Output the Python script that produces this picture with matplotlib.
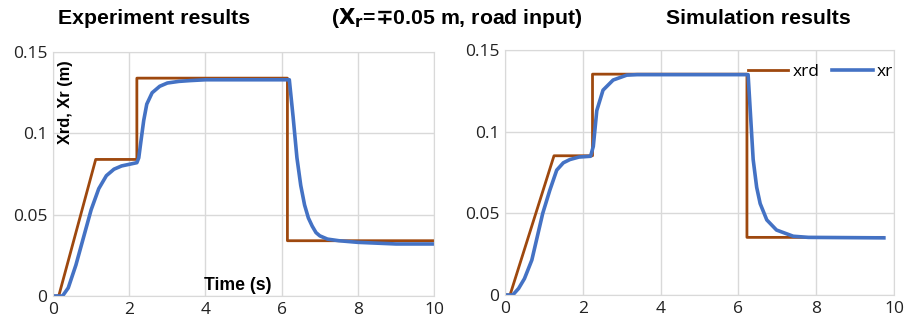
import numpy as np
import matplotlib
matplotlib.use('Agg')
import matplotlib.pyplot as plt

# experiment (left)
t_xrd_exp = [0, 0.15, 1.12, 2.2, 2.2, 6.15, 6.15, 10]
xrd_exp = [0, 0, 0.084, 0.084, 0.134, 0.134, 0.034, 0.034]

t_xr_exp = [0, 0.25, 0.4, 0.6, 0.8, 1.0, 1.2, 1.4, 1.6, 1.8, 2.0, 2.2,
            2.25, 2.3, 2.38, 2.46, 2.6, 2.8, 3.0, 3.3, 3.6, 4.0, 5.0, 6.0, 6.2,
            6.3, 6.4, 6.5, 6.6, 6.7, 6.8, 6.9, 7.0, 7.2, 7.5, 8.0, 9.0, 10.0]
xr_exp = [0, 0, 0.005, 0.019, 0.036, 0.053, 0.066, 0.074, 0.078, 0.080, 0.081, 0.082,
          0.085, 0.094, 0.108, 0.118, 0.125, 0.129, 0.131, 0.132, 0.1325, 0.133, 0.133, 0.133, 0.133,
          0.110, 0.085, 0.068, 0.056, 0.048, 0.043, 0.039, 0.037, 0.035, 0.034, 0.033, 0.032, 0.032]

# simulation (right)
t_xrd_sim = [0, 0.13, 1.26, 2.25, 2.25, 6.22, 6.22, 9.72]
xrd_sim = [0, 0, 0.0853, 0.0853, 0.1353, 0.1353, 0.0353, 0.0353]

t_xr_sim = [0, 0.2, 0.35, 0.5, 0.69, 0.97, 1.15, 1.33, 1.5, 1.67, 1.9, 2.2,
            2.27, 2.36, 2.52, 2.78, 3.13, 3.4, 4.0, 5.0, 6.25,
            6.34, 6.38, 6.47, 6.56, 6.73, 6.98, 7.41, 7.8, 9.74]
xr_sim = [0, 0, 0.004, 0.010, 0.0214, 0.050, 0.064, 0.0765, 0.081, 0.083, 0.0845, 0.085,
          0.091, 0.113, 0.1255, 0.1317, 0.1347, 0.135, 0.135, 0.135, 0.135,
          0.099, 0.083, 0.066, 0.056, 0.046, 0.0398, 0.036, 0.0353, 0.035]

x_ticks = [0, 2, 4, 6, 8, 10]
y_ticks = [0, 0.05, 0.1, 0.15]
y_labels = ['0', '0.05', '0.1', '0.15']

brown = '#9E480E'
blue = '#4472C4'
grid_c = '#D9D9D9'

plt.rcParams['font.family'] = ['Open Sans', 'DejaVu Sans']

fig = plt.figure(figsize=(9.14, 3.23), dpi=100)
ax1 = fig.add_axes([0.058, 0.0836, 0.417, 0.755])
ax2 = fig.add_axes([0.5525, 0.0867, 0.4256, 0.758])

for ax in (ax1, ax2):
    ax.set_xlim(0, 10)
    ax.set_ylim(0, 0.15)
    ax.set_xticks(x_ticks)
    ax.set_yticks(y_ticks)
    ax.set_yticklabels(y_labels)
    ax.tick_params(length=0, labelsize=12.5, colors='#222222', pad=4)
    ax.grid(True, color=grid_c, linewidth=1)
    ax.set_axisbelow(True)
    for s in ax.spines.values():
        s.set_color(grid_c)

ax1.plot(t_xrd_exp, xrd_exp, color=brown, lw=2)
ax1.plot(t_xr_exp, xr_exp, color=blue, lw=2.6)

ax2.plot(t_xrd_sim, xrd_sim, color=brown, lw=2, label='xrd')
ax2.plot(t_xr_sim, xr_sim, color=blue, lw=2.6, label='xr')
ax2.legend(loc='upper right', bbox_to_anchor=(1.025, 0.985), ncol=2, frameon=False,
           fontsize=12.5, handlelength=2.35, handletextpad=0.25, columnspacing=0.7,
           borderaxespad=0.2)

ax1.text(0.032, 0.795, 'Xrd, Xr (m)', transform=ax1.transAxes, rotation=90,
         ha='center', va='center', fontsize=11.8, fontweight='bold',
         family=['Liberation Sans', 'DejaVu Sans'])
ax1.text(0.486, 0.045, 'Time (s)', transform=ax1.transAxes,
         ha='center', va='center', fontsize=12.7, fontweight='bold',
         family=['Liberation Sans', 'DejaVu Sans'])

tfont = dict(fontsize=15.3, fontweight='bold', family=['Liberation Sans', 'DejaVu Sans'],
             va='center', ha='center')
fig.text(154 / 914, 1 - 18 / 323, 'Experiment results', **tfont)
fig.text(457 / 914, 1 - 18 / 323, r'($\mathbf{X_r}$=$\mathbf{\mp}$0.05 m, road input)', **tfont)
fig.text(758 / 914, 1 - 18 / 323, 'Simulation results', **tfont)

fig.savefig('out.png', dpi=100)
